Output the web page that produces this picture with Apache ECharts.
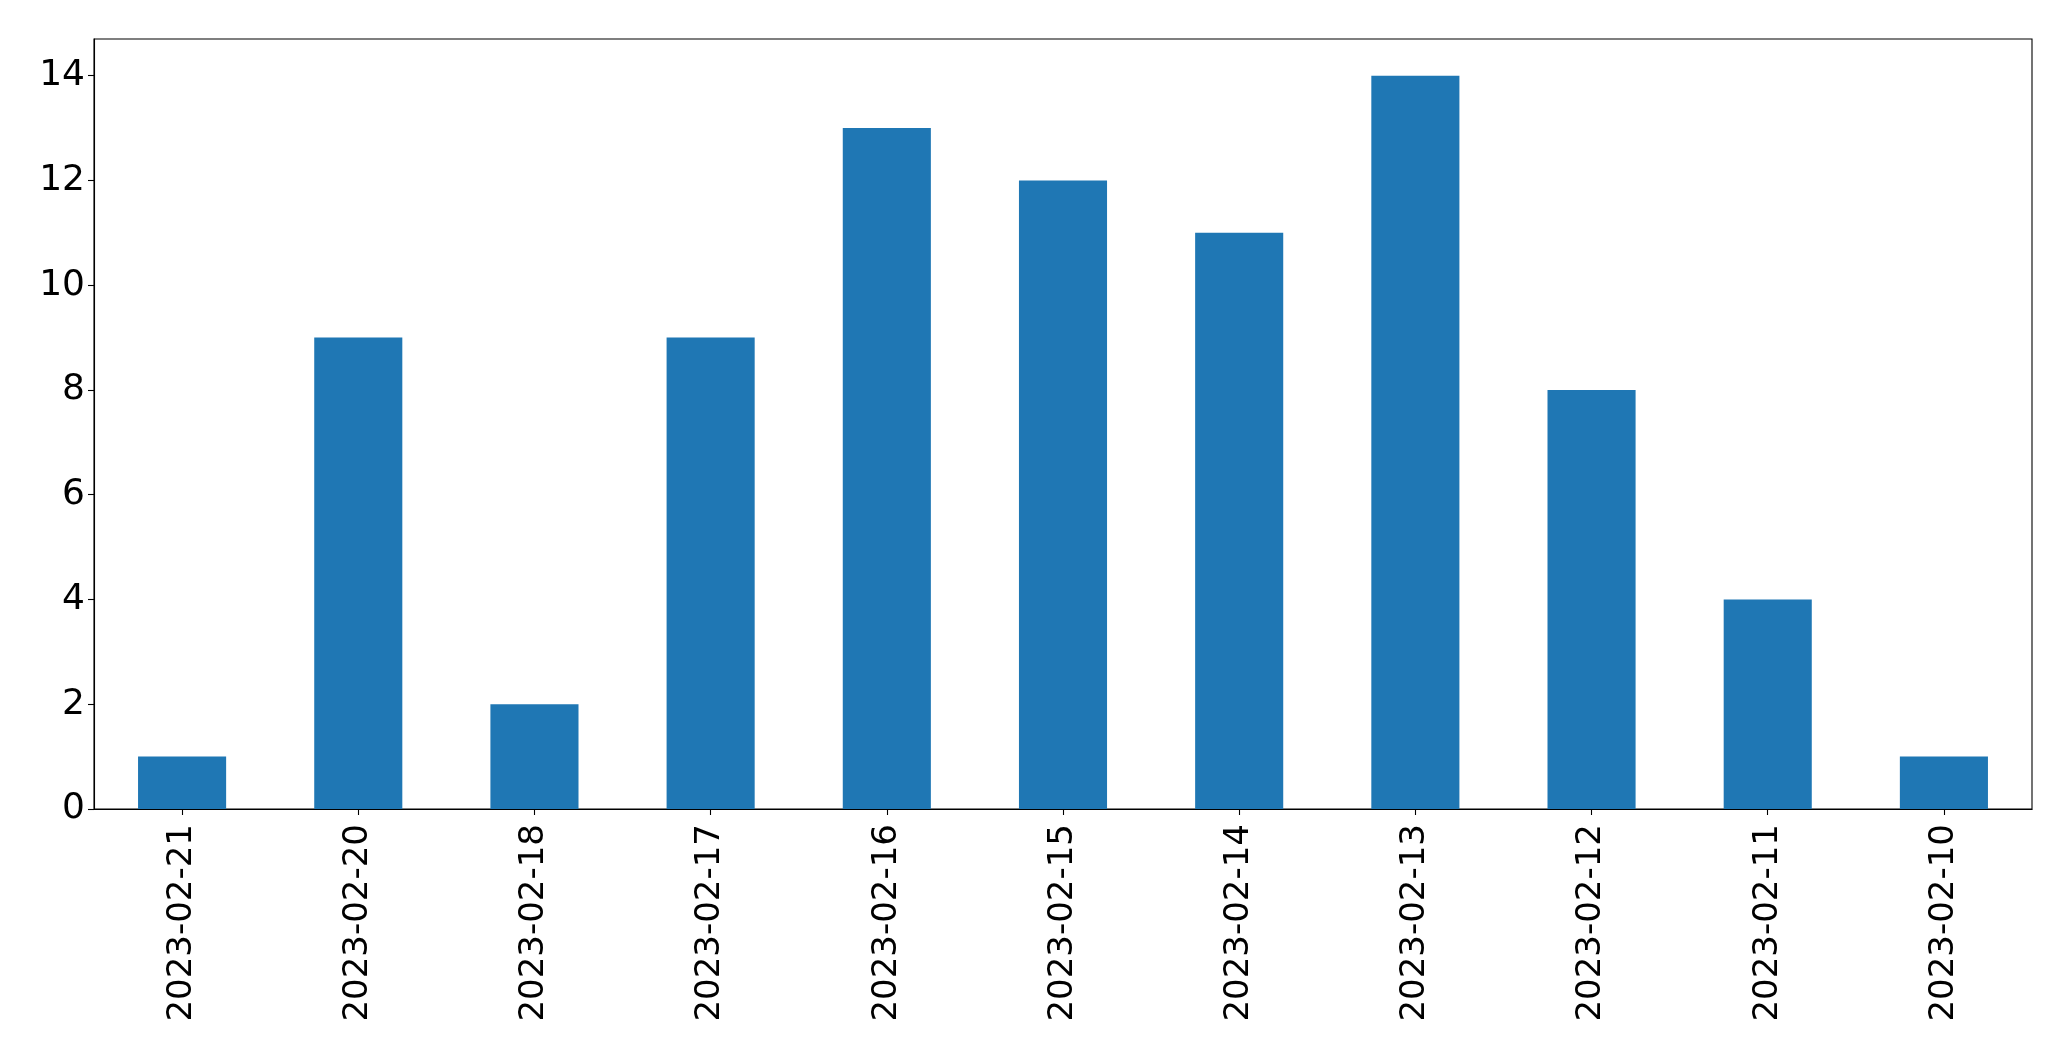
<!DOCTYPE html>
<html><head><meta charset="utf-8">
<script src="https://cdn.jsdelivr.net/npm/echarts@6/dist/echarts.min.js"></script>
<style>html,body{margin:0;padding:0;background:#fff}#c{width:2071px;height:1061px}</style>
</head><body><div id="c"></div>
<script>
const categories = ["2023-02-21","2023-02-20","2023-02-18","2023-02-17","2023-02-16","2023-02-15","2023-02-14","2023-02-13","2023-02-12","2023-02-11","2023-02-10"];
const counts = [1, 9, 2, 9, 13, 12, 11, 14, 8, 4, 1];
const yTicks = [0, 2, 4, 6, 8, 10, 12, 14];
const yMax = 14.7;

const chart = echarts.init(document.getElementById('c'), null, {renderer: 'canvas'});
const font = 'DejaVu Sans';
chart.setOption({
  animation: false,
  backgroundColor: '#ffffff',
  grid: {left: 94, right: 39, top: 39, bottom: 252, show: true, borderColor: '#000', borderWidth: 1.1, backgroundColor: 'transparent'},
  xAxis: {
    type: 'category',
    data: categories,
    boundaryGap: true,
    axisLine: {show: true, lineStyle: {color: '#000', width: 1.1}},
    axisTick: {show: true, alignWithLabel: true, length: 6, lineStyle: {color: '#000', width: 1.1}},
    axisLabel: {rotate: 90, fontFamily: font, fontSize: 34, color: '#000', margin: 15, interval: 0},
    splitLine: {show: false}
  },
  yAxis: {
    type: 'value',
    min: 0,
    max: yMax,
    interval: 2,
    axisLine: {show: true, lineStyle: {color: '#000', width: 1.1}},
    axisTick: {show: true, length: 6, customValues: yTicks, lineStyle: {color: '#000', width: 1.1}},
    axisLabel: {fontFamily: font, fontSize: 36, color: '#000', margin: 9, customValues: yTicks},
    splitLine: {show: false}
  },
  series: [{
    type: 'bar',
    data: counts,
    barWidth: '50%',
    itemStyle: {color: '#1f77b4'}
  }]
});
</script></body></html>
